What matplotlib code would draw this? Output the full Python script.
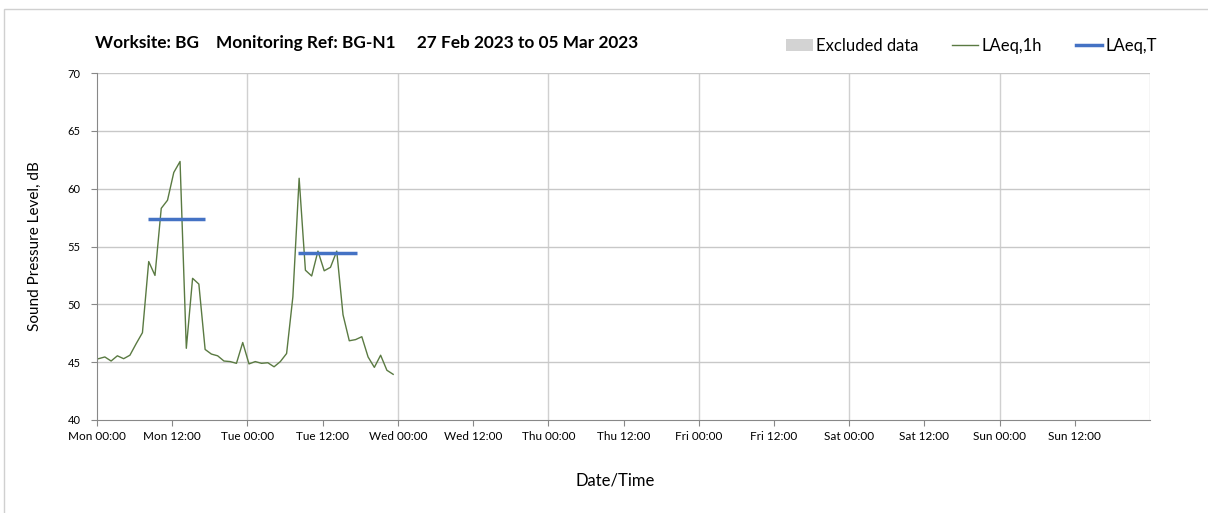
import matplotlib
matplotlib.use("Agg")
import matplotlib.pyplot as plt
from matplotlib.lines import Line2D
from matplotlib.patches import Patch, Rectangle

# hourly LAeq,1h values from Mon 00:00 (hours offset ~0.25)
laeq_1h = [
    45.3, 45.45, 45.1, 45.55, 45.3, 45.6, 46.6, 47.55, 53.7, 52.5,
    58.3, 59.0, 61.4, 62.35, 46.2, 52.25, 51.75, 46.1, 45.7, 45.55,
    45.1, 45.05, 44.9, 46.7, 44.85, 45.05, 44.9, 44.95, 44.6, 45.05,
    45.75, 50.65, 60.9, 52.95, 52.45, 54.6, 52.9, 53.2, 54.6, 49.1,
    46.85, 46.95, 47.2, 45.45, 44.55, 45.6, 44.3, 43.95,
]
hours_1h = [h + 0.25 for h in range(len(laeq_1h))]

# LAeq,T periods: (start hour, end hour, level)
laeq_t_start = [8.1, 32.1]
laeq_t_end = [17.3, 41.5]
laeq_t_level = [57.35, 54.4]

days = ["Mon", "Tue", "Wed", "Thu", "Fri", "Sat", "Sun"]
tick_labels = [f"{d} {t}" for d in days for t in ("00:00", "12:00")]

W, H = 1208, 513
fig = plt.figure(figsize=(W / 100, H / 100), dpi=100)
plt.rcParams["font.family"] = ["Lato", "DejaVu Sans"]

# outer chart frame
fig.patches.append(Rectangle((4 / W, -0.1), 1.1, 1 - 9 / H + 0.1, transform=fig.transFigure,
                             fill=False, edgecolor="#d0d0d0", lw=1))

ax = fig.add_axes([97 / W, 1 - 420 / H, (1150 - 97) / W, (420 - 73) / H])

green = "#5a7a42"
blue = "#4472c4"
ax.plot(hours_1h, laeq_1h, color=green, lw=1.0)
for s, e, v in zip(laeq_t_start, laeq_t_end, laeq_t_level):
    ax.plot([s, e], [v, v], color=blue, lw=2.5, solid_capstyle="butt")

ax.set_xlim(0, 168)
ax.set_ylim(40, 70)
ax.set_yticks(range(40, 71, 5))
ax.set_xticks(range(0, 168, 12))
ax.set_xticklabels(tick_labels, fontsize=8.5)
ax.tick_params(axis="y", labelsize=8, length=4, color="#888888", pad=8)
ax.tick_params(axis="x", length=4, color="#888888", pad=4)

for x in range(24, 169, 24):
    ax.axvline(x, color="#d0d0d0", lw=1, zorder=0)
for y in range(45, 71, 5):
    ax.axhline(y, color="#c8c8c8", lw=1, zorder=0)

for side in ("top", "right"):
    ax.spines[side].set_visible(False)
for side in ("left", "bottom"):
    ax.spines[side].set_color("#888888")

ax.set_ylabel("Sound Pressure Level, dB", fontsize=11)
ax.yaxis.set_label_coords(-0.052, 0.5)
fig.text(615 / W, 1 - 480 / H, "Date/Time", fontsize=12, ha="center", va="center")

fig.text(95 / W, 1 - 43 / H,
         "Worksite: BG    Monitoring Ref: BG-N1     27 Feb 2023 to 05 Mar 2023",
         fontsize=12.4, fontweight="bold", ha="left", va="center")

handles = [
    Patch(facecolor="#d3d3d3", edgecolor="none"),
    Line2D([], [], color=green, lw=1),
    Line2D([], [], color=blue, lw=2.5),
]
fig.legend(handles, ["Excluded data", "LAeq,1h", "LAeq,T"], loc="center right",
           bbox_to_anchor=(1172 / W, 1 - 46 / H), ncol=3, frameon=False,
           fontsize=12, handlelength=1.6, handletextpad=0.2, columnspacing=2.0)

fig.savefig("out.png", dpi=100)
